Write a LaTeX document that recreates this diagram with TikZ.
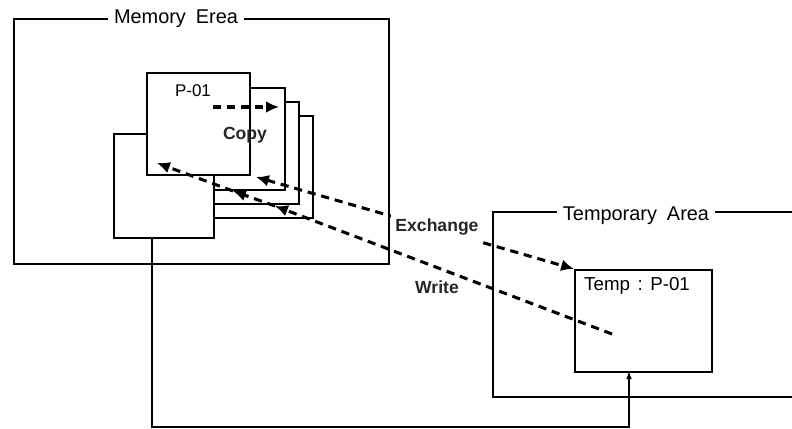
\documentclass[tikz,border=0pt]{standalone}
\usepackage{fontspec}
\setmainfont{Liberation Sans}
\usetikzlibrary{arrows.meta, positioning}

\begin{document}
\begin{tikzpicture}[
        x=0.03cm, y=-0.03cm,
        area/.style={draw, line width=1.6pt},
        page/.style={rectangle, draw, fill=white, line width=1.6pt, inner sep=0pt, anchor=north west, minimum width=3.09cm, minimum height=3.06cm},
        title/.style={fill=white, inner xsep=5pt, inner ysep=1pt, font=\fontsize{17}{19}\selectfont},
        txt/.style={inner sep=0pt, font=\fontsize{14.5}{16}\selectfont},
        lbl/.style={inner sep=0pt, text=black!85, font=\bfseries\fontsize{15}{17}\selectfont},
        dashline/.style={line width=2.6pt, dash pattern=on 7pt off 5pt},
        dasharrow/.style={dashline, -{Latex[length=11pt,width=10pt]}},
        dasharrows/.style={dashline, {Latex[length=11pt,width=10pt]}-{Latex[length=11pt,width=10pt]}},
        feed/.style={line width=1.1pt, -{Latex[length=7pt,width=5pt]}}
    ]
        \useasboundingbox (0,0) rectangle (792,429);

        % Memory area with its title
        \node[page, fill=none, minimum width=11.25cm, minimum height=7.35cm] (mem) at (13,18) {};
        \node[title] (memtitle) at (176,19) {Memory\hspace{0.5em}Erea};

        % Stack of pages: back ones first
        \node[page] (pageC) at (209,115) {};
        \node[page] (pageB) at (195,101) {};
        \node[page] (pageA) at (181,87) {};
        \node[page, minimum width=3cm, minimum height=3.12cm] (back) at (113,133) {};
        \node[page] (front) at (146,72) {};
        \node[txt] (p01) at (193,91) {P-01};

        % Temporary area, open to the right
        \draw[area] (792,212) -- (493,212) -- (493,397) -- (792,397);
        \node[title] (temptitle) at (636,216) {Temporary\hspace{0.5em}Area};
        \node[page, minimum width=4.11cm, minimum height=3.06cm] (temp) at (574,269) {};
        \node[txt, anchor=west, font=\fontsize{16}{18}\selectfont] (templbl) at (584,286) {Temp\hspace{0.4em}:\hspace{0.4em}P-01};

        % Copy
        \coordinate (copyS) at (213,107);
        \coordinate (copyE) at (279,107);
        \draw[dasharrow] (copyS) -- (copyE);
        \node[lbl] (copy) at (245,135) {Copy};

        % Exchange (label hides the line between the two areas)
        \coordinate (exL) at (256,177);
        \draw[dasharrows] (exL) -- (temp.north west);
        \node[lbl, fill=white, inner xsep=3.5pt, inner ysep=7pt] (exch) at (437,227) {Exchange};

        % Write
        \coordinate (wrS) at (612,334);
        \coordinate (wr1) at (275,206);
        \coordinate (wr2) at (233,191);
        \coordinate (wr3) at (157,163);
        \draw[dasharrow] (wrS) -- (wr1);
        \draw[dasharrow] (wr1) -- (wr2);
        \draw[dasharrow] (wr2) -- (wr3);
        \node[lbl] (write) at (437,287) {Write};

        % Feed line back into the temp box
        \coordinate (feedS) at (152,237);
        \coordinate (feedC) at (629,427);
        \coordinate (feedT) at (629,371);
        \draw[feed] (feedS) |- (feedC) -- (feedT);

    \end{tikzpicture}
\end{document}
